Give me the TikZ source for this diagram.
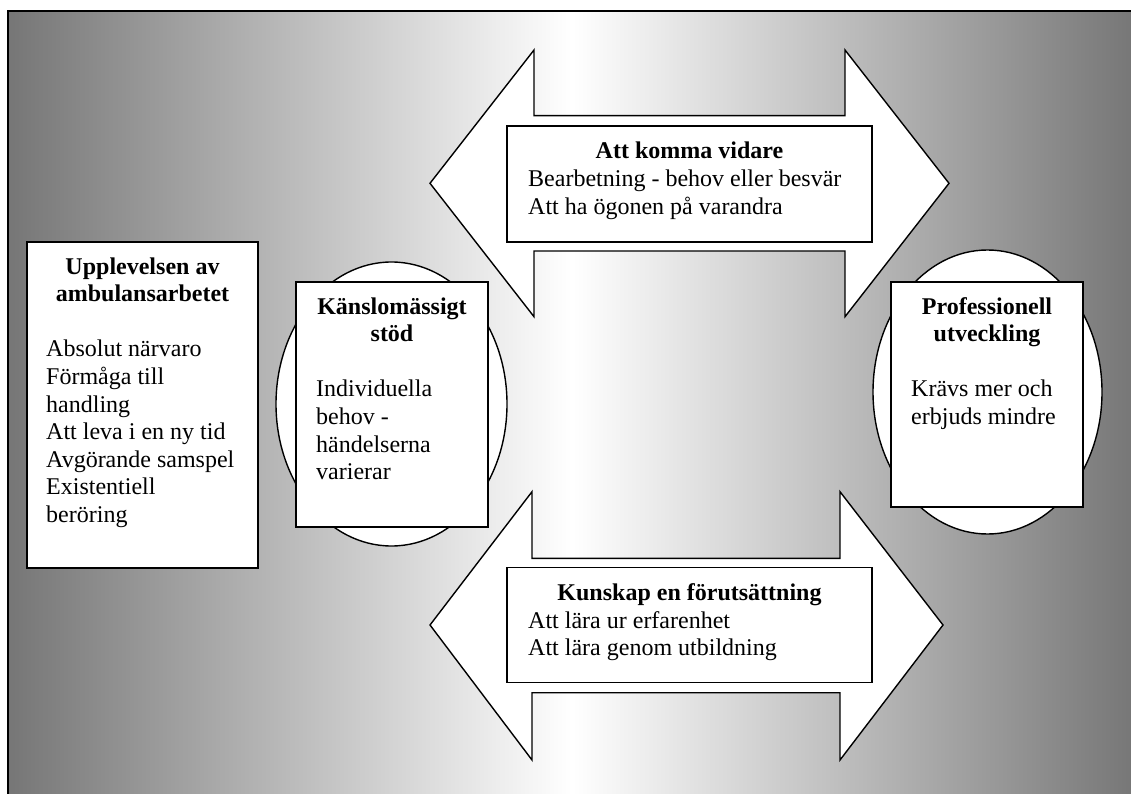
\documentclass[tikz,border=0pt]{standalone}
\usepackage{fontspec}
\setmainfont{Liberation Serif}
\definecolor{bggray}{RGB}{118,118,118}
\tikzset{
  box/.style={draw=black, fill=white, line width=1.4pt, inner sep=0pt, rectangle},
  oval/.style={draw=black, fill=white, line width=1.4pt},
  arrowshape/.style={draw=black, fill=white, line width=1.4pt, line join=miter},
  ttl/.style={font=\fontsize{24}{27.6}\selectfont\bfseries, align=center, anchor=base, inner sep=0pt},
  body/.style={font=\fontsize{24}{27.6}\selectfont, align=left, anchor=base west, inner sep=0pt},
}
\begin{document}
\begin{tikzpicture}[x=1pt,y=-1pt]
\useasboundingbox (0,0) rectangle (1131,794);
% background
\shade[left color=bggray, right color=bggray, middle color=white] (8,11) rectangle (1136,800);
\draw[line width=2pt] (1136,11) -- (8,11) -- (8,800);

% left box (anchor base = last line's baseline)
\node[box, minimum width=231pt, minimum height=326pt] (upp) at (142.5,405) {};
\node[ttl] (uppT) at (142.5,301.6) {Upplevelsen av\\ambulansarbetet};
\node[body] (uppB) at (46,522.4) {Absolut närvaro\\Förmåga till\\handling\\Att leva i en ny tid\\Avgörande samspel\\Existentiell\\beröring};

% top arrow
\draw[arrowshape] (430,183.3) -- (534,50) -- (534,115.7) -- (845,115.7) -- (845,50) -- (949,183.3)
  -- (845,316.7) -- (845,251) -- (534,251) -- (534,316.7) -- cycle;
\node[box, minimum width=365pt, minimum height=116pt] (top) at (689.5,184) {};
\node[ttl] (topT) at (689.5,158.5) {Att komma vidare};
\node[body] (topB) at (528,214.1) {Bearbetning - behov eller besvär\\Att ha ögonen på varandra};

% bottom arrow
\draw[arrowshape] (430,625) -- (532,491.7) -- (532,558.3) -- (840,558.3) -- (840,491.7) -- (943,625)
  -- (840,760) -- (840,692.7) -- (532,692.7) -- (532,760) -- cycle;
\node[box, minimum width=365pt, minimum height=115pt] (bot) at (689.5,625.2) {};
\node[ttl] (botT) at (689.5,600) {Kunskap en förutsättning};
\node[body] (botB) at (528,655.6) {Att lära ur erfarenhet\\Att lära genom utbildning};

% left ellipse + box
\draw[oval] (391.5,404) ellipse [x radius=115.5pt, y radius=142pt];
\node[box, minimum width=192pt, minimum height=245pt] (kan) at (392,404.5) {};
\node[ttl] (kanT) at (392,341.6) {Känslomässigt\\stöd};
\node[body] (kanB) at (316,479.6) {Individuella\\behov -\\händelserna\\varierar};

% right ellipse + box
\draw[oval] (987.5,392) ellipse [x radius=114.5pt, y radius=142pt];
\node[box, minimum width=192pt, minimum height=225pt] (pro) at (987,394.5) {};
\node[ttl] (proT) at (987,341.6) {Professionell\\utveckling};
\node[body] (proB) at (911,424.4) {Krävs mer och\\erbjuds mindre};
\end{tikzpicture}
\end{document}
